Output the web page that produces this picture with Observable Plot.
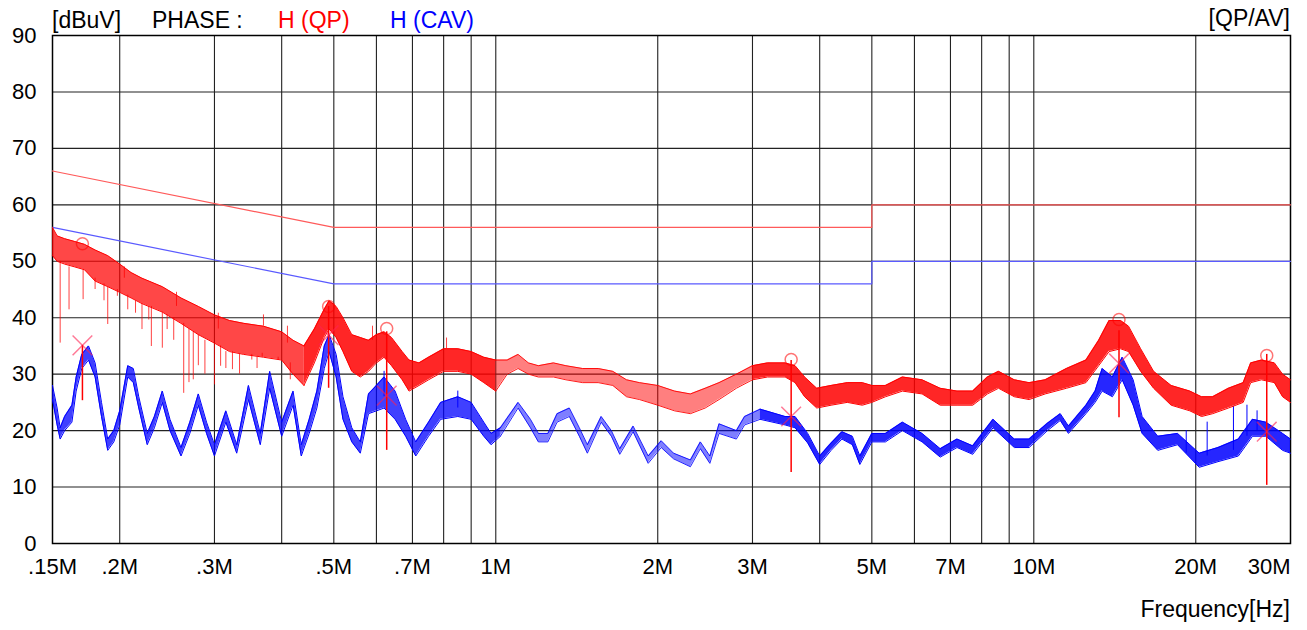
<!DOCTYPE html>
<html>
<head>
<meta charset="utf-8">
<script src="https://cdn.jsdelivr.net/npm/d3@7"></script>
<script src="https://cdn.jsdelivr.net/npm/@observablehq/plot@0.6"></script>
<style>
  html, body { margin: 0; padding: 0; background: #fff; overflow: hidden; }
  #wrap { position: relative; width: 1307px; height: 630px; font-family: "Liberation Sans", Arial, sans-serif; }
  .lbl { position: absolute; font-size: 23px; line-height: 1; white-space: nowrap; color: #000; }
</style>
</head>
<body>
<div id="wrap">
  <span class="lbl" style="left:52px;top:9px">[dBuV]</span>
  <span class="lbl" style="left:152px;top:9px">PHASE :</span>
  <span class="lbl" style="left:278px;top:9px;color:#ff0000">H (QP)</span>
  <span class="lbl" style="left:390px;top:9px;color:#0000ff">H (CAV)</span>
  <span class="lbl" style="right:17px;top:7px">[QP/AV]</span>
  <span class="lbl" style="right:17px;top:598px">Frequency[Hz]</span>
</div>
<script>
// ---- axes ----
const xTickVals = [0.15, 0.2, 0.3, 0.5, 0.7, 1, 2, 3, 5, 7, 10, 20, 30];
const xTickLabels = [".15M", ".2M", ".3M", ".5M", ".7M", "1M", "2M", "3M", "5M", "7M", "10M", "20M", "30M"];
const xGrid = [0.2, 0.3, 0.4, 0.5, 0.6, 0.7, 0.8, 0.9, 1, 2, 3, 4, 5, 6, 7, 8, 9, 10, 20];
const yTickVals = [0, 10, 20, 30, 40, 50, 60, 70, 80, 90];
const yGrid = [10, 20, 30, 40, 50, 60, 70, 80];

// ---- limit lines (MHz, dBuV) ----
const qpLimF = [0.15, 0.5, 5, 5, 30];
const qpLimV = [66, 56, 56, 60, 60];
const avLimF = [0.15, 0.5, 5, 5, 30];
const avLimV = [56, 46, 46, 50, 50];

// ---- QP trace envelope (MHz, upper, lower) ----
const qpF = [0.150,0.153,0.158,0.165,0.172,0.18,0.19,0.20,0.21,0.22,0.24,0.26,0.28,0.30,0.32,0.34,0.37,0.40,0.42,0.44,0.46,0.48,0.49,0.505,0.52,0.54,0.56,0.58,0.60,0.62,0.64,0.67,0.69,0.72,0.75,0.80,0.85,0.90,0.95,1.00,1.05,1.10,1.15,1.20,1.28,1.35,1.45,1.55,1.65,1.75,1.85,2.0,2.15,2.3,2.45,2.6,2.8,3.0,3.2,3.45,3.6,3.75,3.95,4.2,4.5,4.8,5.0,5.3,5.7,6.2,6.7,7.2,7.7,8.2,8.6,9.2,9.8,10.5,11.5,12.5,13.2,13.8,14.5,15.0,15.8,16.7,18.0,19.5,20.5,21.5,23.0,24.5,25.3,26.5,28.0,29.0,30.0];
const qpHi = [56.0,54.5,54.0,53.5,53.0,52.0,51.0,49.5,48.0,47.0,45.5,43.5,42.0,40.5,39.5,39.0,38.5,37.5,36.0,35.0,38.0,41.5,43.0,42.0,40.0,37.0,36.5,36.0,37.0,37.5,36.5,34.0,32.5,32.0,33.0,34.5,34.5,34.0,33.0,32.5,32.5,33.5,32.0,31.5,32.0,31.5,31.0,31.0,30.5,29.0,28.5,28.0,27.0,26.5,27.5,28.5,30.0,31.5,32.0,32.0,31.5,29.5,27.5,28.0,28.5,28.5,28.0,28.0,29.5,29.0,27.5,27.0,27.0,29.5,30.5,29.0,28.5,29.0,31.0,32.5,36.0,39.5,39.5,38.5,34.5,30.5,28.0,27.0,26.0,26.0,27.5,28.5,32.0,32.5,32.0,30.0,29.0];
const qpLo = [51.0,50.0,49.5,49.0,48.5,46.5,45.5,44.5,43.5,42.5,41.0,39.0,37.0,35.5,34.0,33.5,33.0,32.5,30.0,28.0,32.0,36.5,38.0,36.5,34.0,30.5,29.5,30.5,32.0,33.0,31.5,29.0,27.0,28.0,29.0,30.5,30.5,30.0,28.5,27.0,30.0,31.0,30.0,29.5,29.5,29.0,28.5,28.5,28.0,26.0,25.5,24.5,23.5,23.0,24.0,25.5,27.5,29.0,29.5,29.5,28.5,26.0,24.0,24.5,25.0,24.5,25.0,26.0,27.0,26.5,24.5,24.5,24.5,26.5,27.5,26.0,25.5,26.5,27.5,28.5,31.5,34.0,34.5,34.0,30.5,27.5,24.5,23.5,22.5,23.0,24.0,25.0,28.5,29.0,28.5,26.0,25.0];

// QP spikes (MHz, from, to)
const qpSpF  = [0.155,0.161,0.171,0.180,0.187,0.190,0.198,0.204,0.207,0.214,0.220,0.2265,0.229,0.240,0.245,0.252,0.255,0.263,0.269,0.274,0.280,0.288,0.300,0.305,0.308,0.315,0.324,0.334,0.352,0.360,0.368,0.370,0.394,0.41,0.415,0.59,0.81];
const qpSpV1 = [50.0,49.0,48.5,47.0,46.0,45.5,45.0,47.0,44.0,43.0,42.5,42.0,42.0,41.0,40.5,40.0,42.0,39.0,38.0,37.5,37.0,36.0,35.5,38.0,35.0,34.0,34.0,33.5,33.5,33.0,33.0,38.5,33.0,35.5,32.0,36.0,34.5];
const qpSpV2 = [35.5,41.4,43.2,45.0,43.0,38.8,43.8,49.0,41.4,40.8,37.9,39.6,34.9,34.6,37.9,36.0,44.5,26.6,28.5,29.0,31.5,30.0,28.1,40.8,31.4,31.0,30.8,30.0,32.5,31.0,33.7,40.5,32.5,38.5,29.0,38.5,36.4];

// ---- CAV trace envelope ----
const avF = [0.150,0.153,0.155,0.158,0.163,0.166,0.170,0.175,0.18,0.185,0.19,0.195,0.200,0.207,0.212,0.217,0.225,0.232,0.240,0.248,0.260,0.270,0.280,0.29,0.300,0.315,0.330,0.347,0.365,0.380,0.400,0.420,0.435,0.450,0.465,0.480,0.490,0.505,0.520,0.540,0.560,0.580,0.600,0.620,0.650,0.680,0.710,0.75,0.79,0.85,0.90,0.95,0.98,1.02,1.10,1.16,1.20,1.25,1.30,1.37,1.43,1.48,1.57,1.64,1.70,1.80,1.92,2.03,2.14,2.30,2.40,2.50,2.60,2.80,2.90,3.10,3.45,3.6,3.8,4.0,4.2,4.4,4.6,4.75,5.0,5.3,5.7,6.2,6.7,7.2,7.7,8.4,9.2,9.8,10.6,11.2,11.6,12.5,13.0,13.4,14.0,14.6,15.3,15.9,17.0,18.5,20.3,22.0,24.0,25.5,27.0,29.0,30.0];
const avHi = [28.0,24.0,20.5,22.5,24.5,29.5,33.5,35.0,32.0,25.0,18.5,20.0,23.5,31.5,31.0,26.0,19.5,22.5,27.0,22.0,17.0,21.5,26.5,21.5,17.5,23.5,17.5,28.0,19.5,30.5,21.5,27.0,17.5,22.0,27.0,35.0,37.0,33.5,26.0,20.5,18.0,26.5,28.0,29.5,27.0,22.0,18.0,21.5,25.0,26.0,25.0,21.5,19.5,20.5,25.0,22.0,19.5,19.5,23.0,24.0,20.5,17.5,22.5,20.0,16.8,20.8,15.5,18.2,16.0,14.8,18.0,15.5,21.2,20.0,22.5,23.8,22.5,22.5,19.5,15.5,17.8,19.8,19.0,15.5,19.5,19.5,21.5,19.5,16.8,18.5,17.3,22.0,18.5,18.5,21.3,23.0,20.8,24.5,27.0,31.0,29.5,33.0,29.0,22.5,19.0,19.5,16.0,17.0,18.5,22.0,21.5,19.5,18.5];
const avLo = [25.5,21.0,18.5,20.0,21.5,27.0,31.0,32.5,29.5,22.5,16.5,18.0,21.0,29.5,28.5,24.0,17.5,20.5,25.0,20.0,15.5,19.5,24.5,19.5,15.5,21.5,16.0,25.5,17.5,27.5,19.0,24.5,15.5,19.5,24.0,31.0,34.0,29.5,22.0,18.0,16.0,23.0,23.5,24.0,22.0,19.0,15.5,19.0,22.0,22.5,22.0,19.0,17.5,19.0,24.0,20.5,18.0,18.0,21.5,22.5,19.0,16.0,21.5,19.0,15.8,19.8,14.2,17.0,15.0,13.6,16.8,14.2,19.5,18.5,21.0,22.0,21.0,20.5,17.8,14.0,16.5,18.5,17.5,14.0,18.0,18.0,20.0,18.0,15.3,17.0,15.8,20.5,17.0,17.0,20.0,21.8,19.5,23.0,25.0,27.0,26.0,29.0,24.5,19.5,16.5,17.5,13.5,14.5,15.5,19.0,19.0,16.5,16.0];

// CAV spikes
const avSpF  = [0.62, 0.85, 19.2, 21.0, 23.5, 24.9, 26.0];
const avSpV1 = [26.0, 24.0, 16.0, 15.5, 16.5, 19.0, 20.0];
const avSpV2 = [30.5, 27.0, 20.0, 21.5, 24.3, 24.5, 23.5];

// ---- final measurement markers ----
const markF = [0.1705, 0.489, 0.627, 3.54, 14.4, 27.1];
const qpPeak = [53.1, 42.0, 38.1, 32.6, 39.7, 33.3];
const avPeak = [35.1, 36.9, 26.2, 22.5, 31.9, 19.8];
const stemTop = [35.1, 42.0, 37.5, 32.4, 37.7, 33.5];
const stemBottom = [25.3, 27.5, 16.5, 12.6, 22.3, 10.3];

// ---- build tables ----
const zip2 = (f, a, b) => f.map((x, i) => ({f: x, a: a[i], b: b[i]}));
const qpRows = zip2(qpF, qpHi, qpLo);
const avRows = zip2(avF, avHi, avLo);
const qpSp = zip2(qpSpF, qpSpV1, qpSpV2);
const avSp = zip2(avSpF, avSpV1, avSpV2);
const qpLim = qpLimF.map((f, i) => ({f, v: qpLimV[i]}));
const avLim = avLimF.map((f, i) => ({f, v: avLimV[i]}));
const marks = markF.map((f, i) => ({f, qp: qpPeak[i], av: avPeak[i], t: stemTop[i], b: stemBottom[i]}));
const xTicks = xTickVals.map((v, i) => ({v, t: xTickLabels[i]}));
const seg = (rows, lo, hi) => rows.filter(d => d.f >= lo && d.f <= hi);

const RED = "#ff0000", BLUE = "#0000ff";

function band(rows, color, fo, so) {
  return [
    Plot.areaY(rows, {x: "f", y1: "b", y2: "a", fill: color, fillOpacity: fo}),
    Plot.line(rows, {x: "f", y: "a", stroke: color, strokeWidth: 1, strokeOpacity: so}),
    Plot.line(rows, {x: "f", y: "b", stroke: color, strokeWidth: 1, strokeOpacity: so})
  ];
}

const chart = Plot.plot({
  width: 1307,
  height: 630,
  marginLeft: 52,
  marginRight: 17,
  marginTop: 35,
  marginBottom: 87,
  x: {type: "log", domain: [0.15, 30], axis: null},
  y: {domain: [0, 90], axis: null},
  style: {fontFamily: "'Liberation Sans', Arial, sans-serif", fontSize: "22px", background: "transparent", color: "#000", overflow: "visible"},
  marks: [
    Plot.ruleX(xGrid, {x: d => d, stroke: "#222", strokeWidth: 1.1}),
    Plot.ruleY(yGrid, {y: d => d, stroke: "#222", strokeWidth: 1.1}),
    Plot.frame({stroke: "#000", strokeWidth: 1.5}),
    // limits
    Plot.line(qpLim, {x: "f", y: "v", stroke: "#ff5a5a", strokeWidth: 1.2}),
    Plot.line(avLim, {x: "f", y: "v", stroke: "#5a5aff", strokeWidth: 1.2}),
    // CAV trace
    ...band(seg(avRows, 0.15, 1.02), BLUE, 0.75, 1),
    ...band(seg(avRows, 1.02, 3.1), BLUE, 0.5, 0.85),
    ...band(seg(avRows, 3.1, 30), BLUE, 0.85, 1),
    Plot.ruleX(avSp, {x: "f", y1: "a", y2: "b", stroke: BLUE, strokeWidth: 1}),
    // QP trace
    ...band(seg(qpRows, 0.15, 0.45), RED, 0.72, 1),
    ...band(seg(qpRows, 0.44, 1.0), RED, 0.85, 1),
    ...band(seg(qpRows, 1.0, 3.0), RED, 0.5, 0.9),
    ...band(seg(qpRows, 3.0, 30), RED, 0.85, 1),
    Plot.ruleX(qpSp, {x: "f", y1: "a", y2: "b", stroke: RED, strokeWidth: 1, strokeOpacity: 0.75}),
    // markers
    Plot.ruleX(marks, {x: "f", y1: "b", y2: "t", stroke: RED, strokeWidth: 1.5}),
    Plot.dot(marks, {x: "f", y: "qp", r: 6, stroke: RED, strokeOpacity: 0.55, strokeWidth: 1.5, fill: "none"}),
    Plot.dot(marks, {x: "f", y: "av", symbol: "times", r: 9, stroke: "#ff2050", strokeOpacity: 0.6, strokeWidth: 1.5}),
    // tick labels
    Plot.text(xTicks.slice(0, -1), {x: "v", text: "t", frameAnchor: "bottom", dy: 30, fontSize: 22, fill: "#000"}),
    Plot.text(xTicks.slice(-1), {x: "v", text: "t", frameAnchor: "bottom", dy: 30, textAnchor: "end", fontSize: 22, fill: "#000"}),
    Plot.text(yTickVals, {y: d => d, text: d => String(d), frameAnchor: "left", dx: -16, textAnchor: "end", fontSize: 22, fill: "#000"})
  ]
});
chart.style.position = "absolute";
chart.style.left = "0";
chart.style.top = "0";
document.getElementById("wrap").prepend(chart);
</script>
</body>
</html>
